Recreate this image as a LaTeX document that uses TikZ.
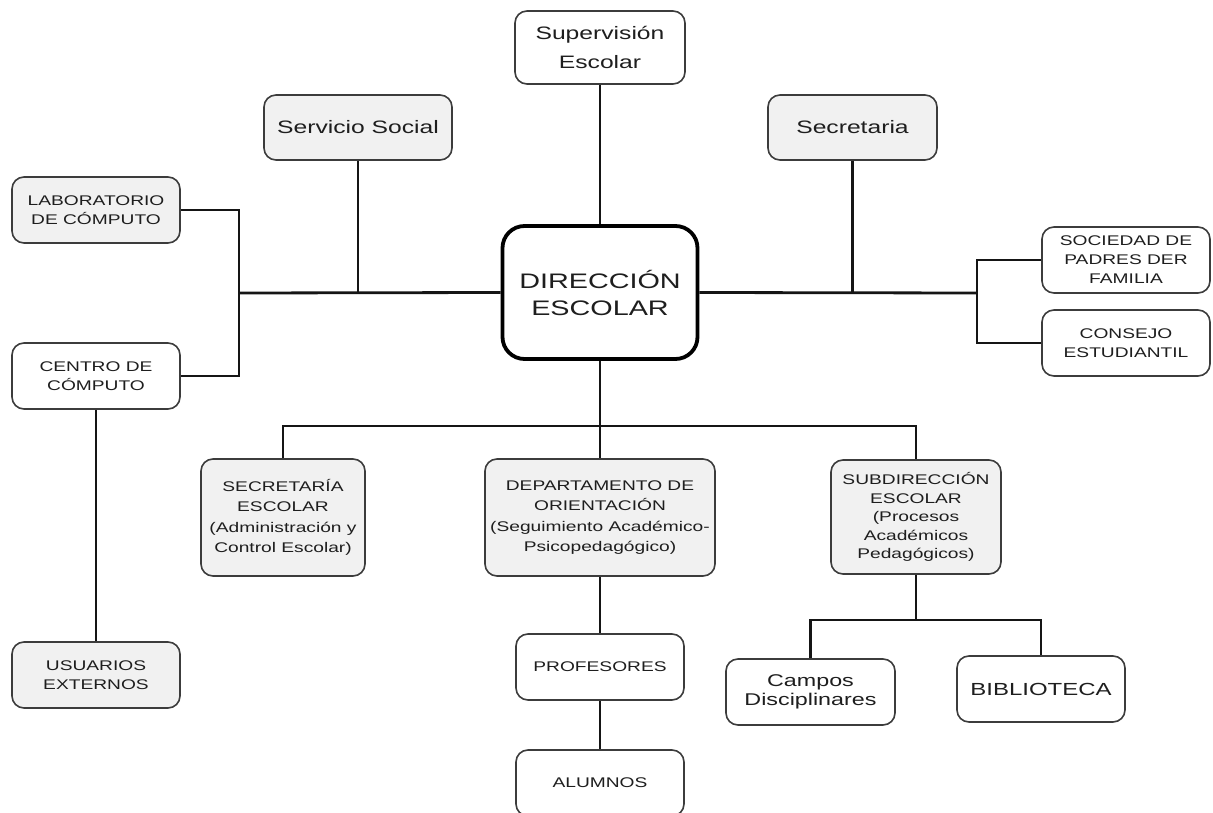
\documentclass[tikz,border=0pt]{standalone}
\usepackage{fontspec}
\setmainfont{Liberation Sans}[FakeStretch=1.37]
\begin{document}
\begin{tikzpicture}[x=1pt,y=-1pt,
  box/.style={draw=boxline, line width=1.6pt, rounded corners=12pt, align=center,
    inner sep=0pt, text=textc, minimum width=168pt, minimum height=66pt,
    font=\fontsize{14}{19}\selectfont},
  grey/.style={fill=boxfill},
  big/.style={font=\fontsize{18}{29}\selectfont},
  link/.style={line width=2.8pt, draw=linkc}]
\definecolor{boxfill}{HTML}{F1F1F1}
\definecolor{boxline}{HTML}{3C3C3C}
\definecolor{textc}{HTML}{1E1E1E}
\definecolor{linkc}{HTML}{151515}
\useasboundingbox (0,0) rectangle (1213,813);
\clip (0,0) rectangle (1213,813);
\fill[white] (0,0) rectangle (1213,813);

% central node
\node[box, draw=black, line width=3.8pt, rounded corners=22pt, minimum width=195pt,
  minimum height=133pt, font=\fontsize{21}{27}\selectfont] (dir) at (600,292.5)
  {DIRECCIÓN\\ESCOLAR};

% upper row
\node[box, big, minimum width=170pt, minimum height=73pt] (sup) at (600,47.5) {Supervisión\\Escolar};
\node[box, big, grey, minimum width=188pt, minimum height=65pt] (serv) at (358,127.5) {Servicio Social};
\node[box, big, grey, minimum width=169pt, minimum height=65pt] (secr) at (852.5,127.5) {Secretaria};

% left side
\node[box, grey] (lab) at (96,210) {LABORATORIO\\DE CÓMPUTO};
\node[box] (cen) at (96,376) {CENTRO DE\\CÓMPUTO};
\node[box, grey] (usu) at (96,675) {USUARIOS\\EXTERNOS};

% right side
\node[box] (soc) at (1126,260) {SOCIEDAD DE\\PADRES DER\\FAMILIA};
\node[box] (con) at (1126,343) {CONSEJO\\ESTUDIANTIL};

% lower row
\node[box, grey, minimum width=164pt, minimum height=117pt, font=\fontsize{14}{20.5}\selectfont]
  (secesc) at (283,517.5) {SECRETARÍA\\ESCOLAR\\(Administración y\\Control Escolar)};
\node[box, grey, minimum width=230pt, minimum height=117pt, font=\fontsize{14}{20.5}\selectfont]
  (dep) at (600,517.5) {DEPARTAMENTO DE\\ORIENTACIÓN\\(Seguimiento Académico-\\Psicopedagógico)};
\node[box, grey, minimum width=170pt, minimum height=114pt, font=\fontsize{14}{18.5}\selectfont]
  (sub) at (916,517) {SUBDIRECCIÓN\\ESCOLAR\\(Procesos\\Académicos\\Pedagógicos)};

\node[box] (prof) at (600,667) {PROFESORES};
\node[box] (alu) at (600,783) {ALUMNOS};
\node[box, minimum width=169pt, font=\fontsize{17}{19}\selectfont] (cam) at (810.5,692) {Campos\\Disciplinares};
\node[box, font=\fontsize{17.5}{20}\selectfont] (bib) at (1041,689) {BIBLIOTECA};

% junction points
\coordinate (jl) at (239,293);
\coordinate (jr) at (977,293);
\coordinate (jb) at (600,426);
\coordinate (js) at (916,620);

% connectors
\draw[link] (sup.south) -- (dir.north);
\draw[link] (dir.west) -- (jl);
\draw[link] (serv.south) -- (serv.south |- jl);
\draw[link] (lab.east) -| (jl) |- (cen.east);
\draw[link] (cen.south) -- (usu.north);
\draw[link] (dir.east) -- (jr);
\draw[link] (secr.south) -- (secr.south |- jr);
\draw[link] (soc.west) -| (jr) |- (con.west);
\draw[link] (dir.south) -- (jb);
\draw[link] (secesc.north) |- (jb) -| (sub.north);
\draw[link] (jb) -- (dep.north);
\draw[link] (dep.south) -- (prof.north);
\draw[link] (prof.south) -- (alu.north);
\draw[link] (sub.south) -- (js);
\draw[link] (cam.north) |- (js) -| (bib.north);
\end{tikzpicture}
\end{document}
